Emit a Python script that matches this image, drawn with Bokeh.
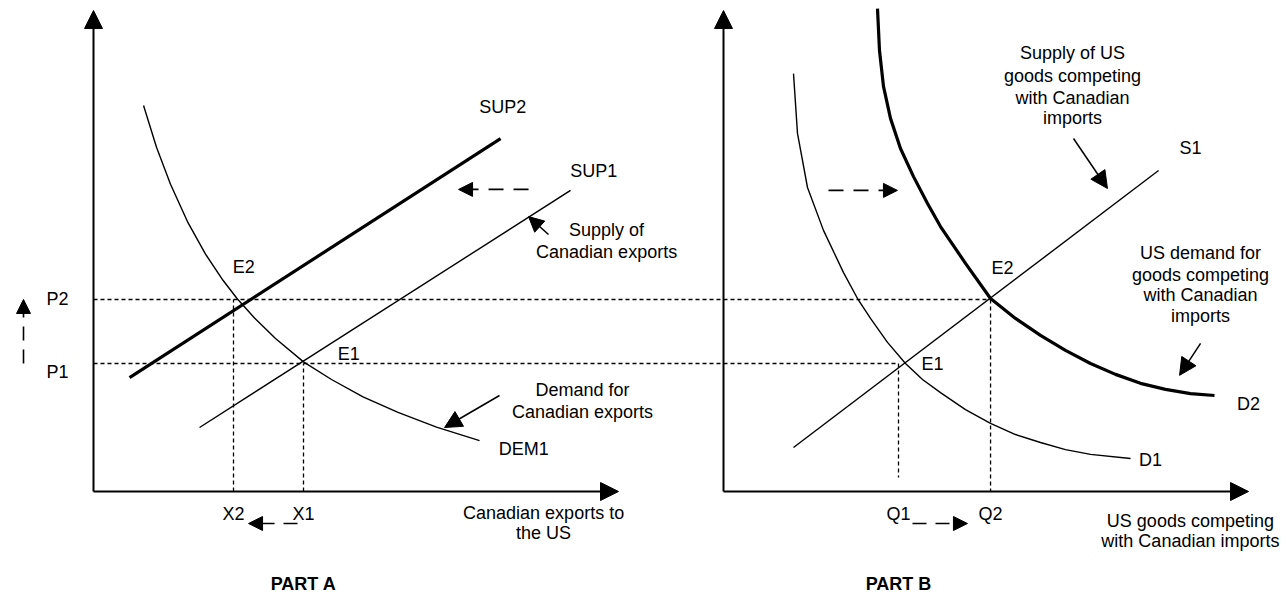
from bokeh.plotting import figure
from bokeh.models import Range1d, Arrow, NormalHead
from bokeh.embed import file_html
from bokeh.resources import INLINE
from bokeh.core.properties import value

# ---------------- data (quantity / price units) ----------------
P1, P2 = 4.0, 6.0          # prices
X1, X2 = 6.0, 4.0          # Canadian exports (Part A)
Q1, Q2 = 5.0, 7.63         # US goods (Part B)

# Part A
dem1_q = [1.43, 1.8, 2.2, 2.7, 3.2, 3.7, 4.1, 4.6, 5.2, 6.0, 6.8, 7.7, 8.7, 9.8, 11.03]
dem1_p = [12.06, 10.76, 9.60, 8.40, 7.42, 6.60, 6.03, 5.42, 4.78, 4.05, 3.50, 2.96, 2.47, 2.01, 1.59]
sup1_q = [3.03, 13.63]
sup1_p = [2.0, 9.41]
sup2_q = [1.03, 11.63]
sup2_p = [3.56, 11.03]

# Part B
d1_q = [2.0, 2.114, 2.4, 2.857, 3.429, 3.829, 4.2, 4.686, 5.2, 5.686, 6.2, 6.914, 7.629,
        8.343, 9.057, 9.771, 10.486, 11.629]
d1_p = [13.06, 11.19, 9.5, 8.16, 6.84, 6.03, 5.41, 4.66, 4.0, 3.5, 3.09, 2.56, 2.13,
        1.78, 1.53, 1.31, 1.16, 1.03]
d2_q = [4.4, 4.457, 4.571, 4.771, 5.057, 5.429, 5.829, 6.2, 6.914, 7.629, 8.343, 9.057,
        9.771, 10.486, 11.2, 11.914, 12.629, 13.343, 14.029]
d2_p = [15.09, 13.78, 12.66, 11.66, 10.72, 9.84, 9.0, 8.28, 7.13, 6.03, 5.41, 4.88,
        4.41, 4.0, 3.66, 3.38, 3.19, 3.06, 3.0]
s1_q = [2.0, 12.43]
s1_p = [1.375, 10.03]

AXIS_Q = 15.0   # length of quantity axes
AXIS_P = 15.03  # length of price axes

# ---------------- layout ----------------
B0 = 18.0   # horizontal offset of Part B origin
FONT = value("Liberation Sans")
FS = "18px"

p = figure(width=1286, height=596,
           x_range=Range1d(-2.657143, 34.085714),
           y_range=Range1d(-3.28125, 15.34375),
           output_backend="svg", toolbar_location=None,
           x_axis_type=None, y_axis_type=None, min_border=0)
p.grid.visible = False
p.outline_line_color = None
p.background_fill_color = "white"


def arrow(x0, y0, x1, y1, size=14, width=1.5, dash="solid"):
    p.add_layout(Arrow(end=NormalHead(size=size, fill_color="black", line_color="black",
                                      line_width=1),
                       x_start=x0, y_start=y0, x_end=x1, y_end=y1,
                       line_color="black", line_width=width, line_dash=dash))


def shifted(qs):
    return [q + B0 for q in qs]


# axes
for ox in (0.0, B0):
    arrow(ox, 0, ox, AXIS_P, size=18, width=2)
    arrow(ox, 0, ox + AXIS_Q, 0, size=18, width=2)

# dashed guides
dg = dict(line_color="black", line_width=1.3, line_dash="4 3")
p.line([0, B0 + Q2], [P2, P2], **dg)
p.line([0, B0 + Q1], [P1, P1], **dg)
p.line([X2, X2], [0, P2], **dg)
p.line([X1, X1], [0, P1], **dg)
p.line([B0 + Q1, B0 + Q1], [P1, 0.44], **dg)
p.line([B0 + Q2, B0 + Q2], [P2, 0], **dg)

# curves Part A
p.line(dem1_q, dem1_p, line_color="black", line_width=1.4, line_join="round")
p.line(sup1_q, sup1_p, line_color="black", line_width=1.4)
p.line(sup2_q, sup2_p, line_color="black", line_width=3.2)

# curves Part B
p.line(shifted(d1_q), d1_p, line_color="black", line_width=1.4, line_join="round")
p.line(shifted(d2_q), d2_p, line_color="black", line_width=3.2, line_join="round")
p.line(shifted(s1_q), s1_p, line_color="black", line_width=1.4)

# shift arrows (dashed)
arrow(12.43, 9.44, 10.43, 9.44, size=14, width=1.6, dash="15 10")
arrow(B0 + 3.0, 9.41, B0 + 4.97, 9.41, size=14, width=1.6, dash="15 10")
arrow(-2.0, P1, -2.0, P2, size=14, width=1.6, dash="14 9")
arrow(5.83, -1.0, 4.43, -1.0, size=14, width=1.6, dash="14 9")
arrow(B0 + 5.4, -1.0, B0 + 6.97, -1.0, size=14, width=1.6, dash="14 9")

# pointer arrows
arrow(13.0, 8.03, 12.43, 8.59, size=15, width=1.5)
arrow(11.6, 3.0, 10.03, 2.0, size=17, width=1.5)
arrow(B0 + 10.0, 11.03, B0 + 10.97, 9.47, size=17, width=1.5)
arrow(B0 + 13.63, 4.63, B0 + 13.03, 3.63, size=17, width=1.5)

# labels
labels = [
    ("P2", -1.03, 6.03), ("P1", -1.03, 3.72),
    ("E2", 4.29, 7.03), ("E1", 7.29, 4.31),
    ("SUP2", 11.69, 12.03), ("SUP1", 14.29, 10.03),
    ("Supply of", 14.66, 8.16), ("Canadian exports", 14.66, 7.5),
    ("Demand for", 13.97, 3.16), ("Canadian exports", 13.97, 2.5),
    ("DEM1", 12.29, 1.34),
    ("X2", X2, -0.69), ("X1", X1, -0.69),
    ("Canadian exports to", 12.86, -0.66), ("the US", 12.86, -1.31),
    ("E1", B0 + 5.97, 4.0), ("E2", B0 + 7.97, 7.0), ("S1", B0 + 13.34, 10.75),
    ("Supply of US", B0 + 9.97, 13.69), ("goods competing", B0 + 9.97, 13.0),
    ("with Canadian", B0 + 9.97, 12.31), ("imports", B0 + 9.97, 11.66),
    ("US demand for", B0 + 13.63, 7.44), ("goods competing", B0 + 13.63, 6.78),
    ("with Canadian", B0 + 13.63, 6.13), ("imports", B0 + 13.63, 5.47),
    ("D2", B0 + 15.0, 2.75), ("D1", B0 + 12.2, 1.0),
    ("Q1", B0 + Q1, -0.69), ("Q2", B0 + Q2, -0.69),
    ("US goods competing", B0 + 13.34, -0.91), ("with Canadian imports", B0 + 13.34, -1.56),
]
p.text(x=[l[1] for l in labels], y=[l[2] for l in labels], text=[l[0] for l in labels],
       text_font=FONT, text_font_size=FS, text_color="black",
       text_align="center", text_baseline="middle")

p.text(x=[X1, B0 + Q1], y=[-2.88, -2.88], text=["PART A", "PART B"],
       text_font=FONT, text_font_size=FS, text_font_style="bold", text_color="black",
       text_align="center", text_baseline="middle")

open("out.html", "w").write(file_html(p, INLINE))
